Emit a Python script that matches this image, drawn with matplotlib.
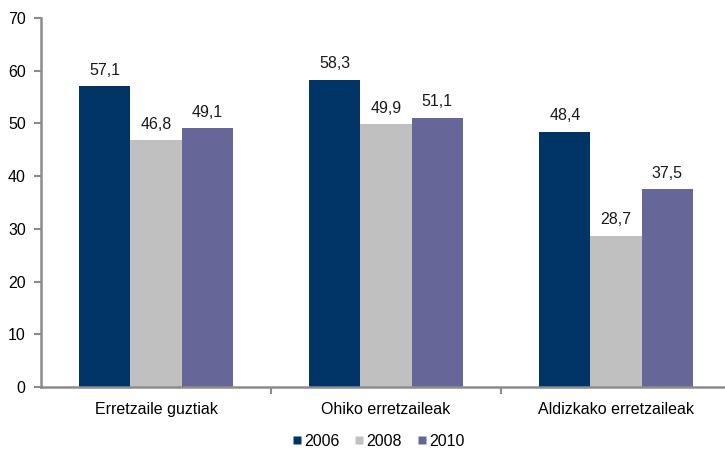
import numpy as np
import matplotlib
matplotlib.use("Agg")
import matplotlib.pyplot as plt
from matplotlib.lines import Line2D

plt.rcParams['font.family'] = ['Liberation Sans', 'DejaVu Sans']

categories = ['Erretzaile guztiak', 'Ohiko erretzaileak', 'Aldizkako erretzaileak']
years = ['2006', '2008', '2010']
values_2006 = [57.1, 58.3, 48.4]
values_2008 = [46.8, 49.9, 28.7]
values_2010 = [49.1, 51.1, 37.5]
colors = ['#003366', '#C0C0C0', '#666699']

series = [values_2006, values_2008, values_2010]

fig = plt.figure(figsize=(7.25, 4.53), dpi=100)
ax = fig.add_axes([41 / 725, 1 - 387 / 453, 690 / 725, 369 / 453])

x = np.arange(len(categories))
width = 0.222
for i, (vals, col) in enumerate(zip(series, colors)):
    pos = x + (i - 1) * width
    ax.bar(pos, vals, width=width, color=col, edgecolor='none', zorder=2)
    for p, v in zip(pos, vals):
        ax.text(p, v + 1.6, f"{v:.1f}".replace('.', ','), ha='center', va='bottom',
                fontsize=11.5, color='#1a1a1a')

ax.set_xlim(-0.5, 2.5)
ax.set_ylim(0, 70)
ax.set_yticks(range(0, 71, 10))
ax.set_xticks(x)
ax.set_xticklabels(categories, fontsize=11.5)
ax.set_xticks([0.5, 1.5], minor=True)
ax.tick_params(axis='x', which='major', length=0, pad=11)
ax.tick_params(axis='x', which='minor', length=5, color='#8c8c8c', width=1.5, direction='out')
ax.tick_params(axis='y', length=5, color='#8c8c8c', width=1.5, pad=6, labelsize=11.5)

for side in ['top', 'right']:
    ax.spines[side].set_visible(False)
for side in ['left', 'bottom']:
    ax.spines[side].set_color('#8c8c8c')
    ax.spines[side].set_linewidth(1.8)

handles = [Line2D([], [], marker='s', linestyle='none', markersize=5.5,
                  markerfacecolor=c, markeredgecolor='none', label=y)
           for c, y in zip(colors, years)]
fig.legend(handles=handles, loc='center', bbox_to_anchor=(378 / 725, 1 - 441 / 453),
           ncol=3, frameon=False, fontsize=11.5, handletextpad=0.1, columnspacing=0.9,
           handlelength=0.7)

fig.savefig('out.png', dpi=100)
